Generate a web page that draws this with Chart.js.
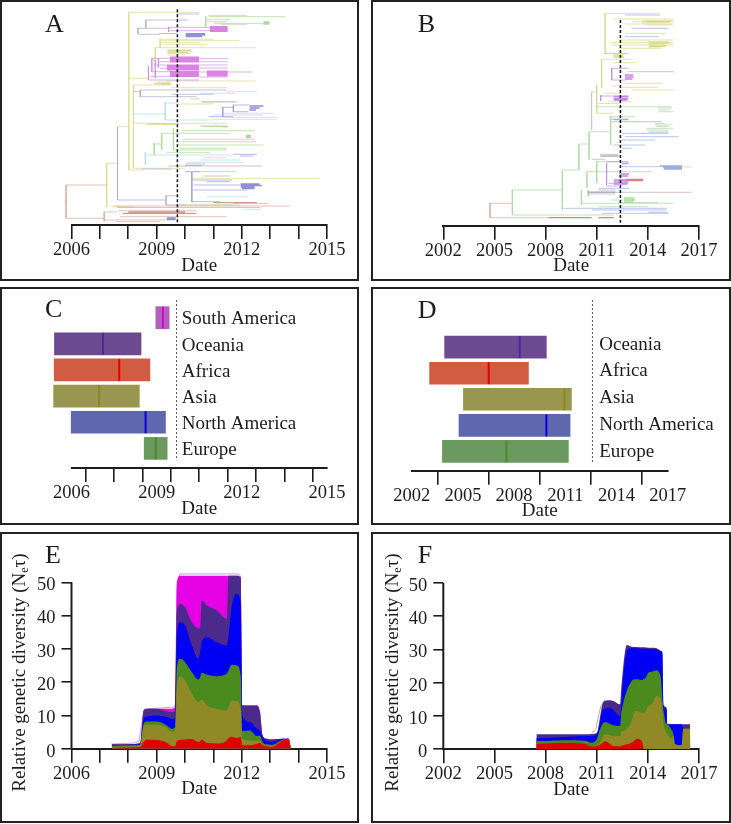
<!DOCTYPE html>
<html>
<head>
<meta charset="utf-8">
<script src="https://cdn.jsdelivr.net/npm/chart.js@4"></script>
<style>
  html, body { margin: 0; padding: 0; background: #fff; }
  .panel { position: absolute; box-shadow: inset 0 0 0 2px #222; }
  canvas { display: block; }
</style>
</head>
<body>
<script>
// Tree A: branches are [from year, to year, row], stems are [year, from row, to row]
const aYellowBranches = [[2008.02,2010.53,12.3],[2008.02,2008.54,170],[2008.02,2008.71,78.3],[2008.18,2009.47,85],[2008.18,2011.47,123.3],[2008.6,2009.8,124],[2008.18,2010.0,168.3],[2009.12,2011.0,39.3],[2009.12,2011.92,40.7],[2009.12,2010.53,42.7],[2009.24,2010.77,44.7],[2008.95,2012.5,47.7],[2009.36,2010.24,50],[2009.36,2010.26,51.7],[2009.36,2010.2,53.3],[2009.4,2010.0,55],[2009.36,2012.49,81],[2009.0,2009.5,82],[2009.0,2009.5,83.3],[2009.1,2009.5,84.5],[2009.53,2011.5,87.7],[2010.53,2011.82,101.7],[2009.77,2011.0,104],[2010.24,2014.73,178.3],[2009.83,2011.94,205],[2007.42,2008.18,206.7],[2007.62,2008.02,126.7],[2007.24,2007.62,163.3]];
const aYellowStems = [[2008.02,12.3,170],[2008.18,85,168.3],[2008.95,47.7,62],[2007.24,163,207],[2009.12,39,48]];
const aYellowBlob = [[2009.4,2010.2,50.5],[2009.4,2010.1,52.5],[2008.9,2009.5,83.5],[2008.7,2009.7,124]];
const aPurpleBranches = [[2010.49,2011.5,58.7],[2010.49,2011.5,61.7],[2010.49,2011.5,65],[2010.49,2011.5,68],[2010.49,2012.37,72],[2010.49,2011.5,77],[2008.83,2009.47,58.3],[2009.06,2009.47,61.7],[2008.89,2009.36,65],[2009.12,2009.6,68.3],[2008.83,2009.47,71.7],[2008.77,2009.47,76.7],[2008.71,2010.49,80],[2009.42,2011.47,27.3],[2009.42,2010.99,30.7]];
const aPurpleStems = [[2008.83,58,72],[2009.06,58,68],[2008.71,66,80],[2008.95,60,78],[2009.42,27,32]];
const aPurpleBlock = [[2009.47,2010.49,57.5],[2009.47,2010.49,59.5],[2009.47,2010.49,61.5],[2009.36,2010.49,65.5],[2009.36,2010.49,67.5],[2009.36,2010.49,69.5],[2009.47,2010.49,72],[2009.47,2010.49,74],[2009.47,2010.49,76],[2010.77,2011.5,71.5],[2010.77,2011.5,73.5],[2010.77,2011.5,75.5],[2010.88,2011.5,27],[2010.88,2011.5,29],[2010.88,2011.5,31]];
const aGreenBranches = [[2010.83,2012.18,15.7],[2010.83,2013.53,16.7],[2010.77,2011.59,19.3],[2010.73,2011.47,21.7],[2011.0,2012.94,23.3],[2011.24,2012.18,24.3],[2010.18,2010.53,99],[2010.65,2011.53,126.7],[2009.89,2012.47,130.7],[2009.59,2011.59,133.3],[2009.95,2012.47,139.3],[2009.83,2012.5,141.7],[2009.71,2012.76,145],[2009.83,2011.47,148.3],[2009.59,2011.47,150],[2009.36,2010.88,152.7],[2008.91,2009.18,144],[2009.18,2009.59,133.3],[2009.83,2011.71,205],[2010.3,2011.82,171.6]];
const aGreenStems = [[2010.73,16,28],[2009.59,128,150],[2009.18,133,150],[2008.91,143,155]];
const aGreenBlob = [[2012.76,2012.97,22],[2012.76,2012.97,23],[2012.76,2012.97,24],[2012.15,2012.32,135.5],[2012.15,2012.32,136.5],[2012.15,2012.32,137.5],[2011.3,2011.5,126.5]];
const aCyanBranches = [[2008.18,2009.3,114],[2011.0,2012.76,115],[2011.35,2013.11,113.3],[2011.35,2013.23,117.3],[2011.0,2013.23,119.3],[2009.3,2011.0,120],[2011.47,2012.53,91.7],[2010.53,2011.76,93.3],[2008.6,2011.7,155],[2010.65,2011.47,157.7],[2010.53,2011.94,160],[2010.06,2012.06,162.3],[2010.77,2012.23,196.7],[2012.06,2012.7,209.3],[2009.3,2009.71,103]];
const aCyanStems = [[2009.3,102,120],[2008.6,152,165]];
const aBlueBranches = [[2009.1,2009.7,33.5],[2011.7,2012.27,105],[2011.7,2012.23,111.7],[2011.33,2011.7,107.3],[2010.83,2011.7,116.7],[2011.7,2012.53,154.3],[2011.94,2012.41,156],[2010.0,2010.53,171.7],[2010.24,2011.65,180],[2010.77,2011.59,181.7],[2010.3,2011.96,185],[2010.3,2012.17,190],[2010.24,2011.24,201.7]];
const aBlueStems = [[2011.7,105,112],[2011.33,107,117],[2010.24,172,202]];
const aBlueBlob = [[2010.02,2010.71,33.7],[2010.02,2010.71,35],[2010.02,2010.6,36.5],[2012.27,2012.76,106],[2012.27,2012.63,108],[2012.27,2012.5,110],[2011.96,2012.62,184],[2011.96,2012.7,185.5],[2011.96,2012.45,187],[2012.0,2012.45,188.5],[2009.36,2009.67,218],[2009.36,2009.67,219.5]];
const aLavenderBranches = [[2007.62,2009.33,200],[2009.33,2009.71,195.7],[2009.33,2010.0,205],[2008.42,2011.47,90],[2008.42,2010.41,96.7],[2009.53,2011,94.3],[2008.18,2008.42,91.7],[2010.59,2011.82,102],[2010.53,2011.3,126],[2010,2010.71,164],[2010,2010.6,165.5],[2009.42,2012.7,166],[2008.48,2009.53,169],[2008.34,2009.12,34.3],[2008.34,2009.47,28.3],[2008.62,2010.1,20],[2009.7,2010.5,14]];
const aLavenderStems = [[2007.62,127,200],[2009.33,195.7,205],[2008.42,90,97],[2008.34,28,34],[2008.62,20,28]];
const aRoseBranches = [[2005.81,2007.24,185],[2005.81,2007.15,218.3],[2005.74,2005.81,202],[2007.48,2013.68,206],[2007.6,2012.64,207.5],[2007.65,2010.41,210.7],[2007.71,2011.47,216.7],[2007.54,2009.12,221.7],[2007.15,2007.6,212],[2007.15,2009.36,220],[2011.7,2012.94,203.6],[2010.65,2011.59,176]];
const aRoseStems = [[2005.81,185,218.3],[2007.15,212,221.7]];
const aRoseBlob = [[2008.0,2010.0,212],[2007.8,2010.4,213.3],[2011,2012.53,202.7]];
const aDateLine = [2009.73, 9.3, 224];

// Tree B
const bYellowBranches = [[2011.49,2014.71,13.3],[2011.98,2015.5,19],[2013.05,2015.5,21.7],[2012.66,2015.5,24],[2013.64,2015.5,20.7],[2013.64,2015.3,22.7],[2013.8,2015.4,25],[2012.66,2015.1,33.3],[2012.27,2015.5,40],[2011.78,2015.5,42.7],[2011.88,2015.5,45],[2012.27,2014.81,48.3],[2014.03,2014.81,47],[2014.03,2014.9,46.3],[2014,2015,44],[2014,2015.2,41.5],[2011.29,2013.05,59.3],[2011.98,2013.34,62.7],[2012.46,2014.81,83.3],[2012.46,2014.6,87.3],[2013.05,2015.5,90],[2011.88,2012.46,86],[2011,2011.98,113.3],[2011.68,2013.05,101.7],[2011.1,2012.37,103.5],[2011.49,2012.37,93.3],[2016,2016.57,167]];
const bYellowStems = [[2011.49,13.3,54],[2011.29,59,88],[2011,85,113]];
const bYellowBlob = [[2011.98,2012.56,55],[2011.98,2012.6,57],[2013.9,2015.3,21.5],[2014.1,2015.3,43],[2014.1,2015.1,46]];
const bPurpleBranches = [[2011.88,2012.86,68.3],[2011.88,2012.66,80],[2011.23,2012.86,96],[2011.58,2012.86,161.7],[2011.68,2012.86,183.3],[2011.6,2012.3,186]];
const bPurpleStems = [[2011.88,68,80],[2011.23,95,101],[2011.58,163,185]];
const bPurpleBlob = [[2012.66,2013.15,75],[2012.66,2013.15,77],[2012.66,2013.1,79],[2012,2012.86,96.5],[2012,2012.86,98.5],[2012,2012.8,100],[2012.3,2012.9,174],[2012.3,2012.85,176],[2012,2012.9,180],[2012,2012.85,182],[2012,2012.8,184]];
const bGreenBranches = [[2010.7,2011,92],[2011,2015.4,106.7],[2014.6,2015.4,108],[2014.65,2015.5,111.7],[2014.6,2015.3,110],[2011.82,2013.25,116.7],[2014.42,2015.4,125],[2014.42,2015.0,123.5],[2014.5,2015.2,126.5],[2013.93,2015.5,128.3],[2013.93,2015.2,130],[2010.55,2011.78,131.7],[2009.96,2010.55,144],[2008.98,2009.96,170],[2006.05,2008.98,190],[2006.05,2012,215],[2011,2012.27,161.7],[2010.43,2014.22,171.7],[2011.88,2013.25,200],[2010.1,2015.5,203.3],[2012.27,2014.6,202.5],[2011.1,2014.03,206.7]];
const bGreenStems = [[2010.7,92,130],[2011.82,116,145],[2010.55,132,160],[2009.96,144,170],[2008.98,170,210],[2006.05,190,215],[2011,161,183],[2010.43,172,188],[2010.1,190,205]];
const bGreenBlob = [[2012.6,2013.2,198],[2012.6,2013.25,200],[2012.6,2013.15,202]];
const bBlueBranches = [[2012.66,2014.71,15],[2013.05,2015.2,28.3],[2012.66,2014.62,36.7],[2011.49,2012.86,53.3],[2012.86,2015.5,71.7],[2011.82,2012.86,119.3],[2011.88,2014.81,121.7],[2012.46,2015.2,133.3],[2014.03,2015.2,132],[2012.66,2015.79,136.7],[2012.46,2014.42,140],[2011.98,2013.83,145],[2012.46,2013.05,148.3],[2012.46,2014.71,166.7],[2011.1,2012.95,188.3],[2009.04,2015.1,208.3],[2010.7,2015.1,210],[2011.29,2015.2,213.3],[2014.03,2015.2,212.3]];
const bBlueBlob = [[2014.71,2016,166],[2014.9,2016,167.5],[2014.95,2016,169],[2012.46,2012.86,163.5]];
const bGrayBranches = [[2011.19,2012.27,154.3],[2010.7,2011.49,159.3],[2010.5,2014.42,192.3],[2011.1,2012.1,190],[2010.5,2012.1,194]];
const bGrayStems = [[2010.5,190,196]];
const bGrayBlob = [[2011.2,2012.3,156],[2012,2012.86,119.5],[2010.5,2012.1,192.3]];
const bRoseBranches = [[2004.74,2006.05,203.3],[2004.74,2008.16,217.7],[2014.42,2016.57,192.3]];
const bRoseStems = [[2004.74,203,218]];
const bRedBlob = [[2008.16,2010.7,217.7],[2011.1,2012,217.7],[2012.36,2013.74,180],[2012.7,2013.74,179.3],[2012.7,2013.7,180.7]];
const bDateLine = [2012.39, 20, 222.7];

// Panel C and D: region, start, end and median years
const cRegions = ['South America', 'Oceania', 'Africa', 'Asia', 'North America', 'Europe'];
const cStart = [2008.97, 2005.40, 2005.39, 2005.37, 2005.99, 2008.56];
const cEnd = [2009.44, 2008.45, 2008.76, 2008.39, 2009.31, 2009.37];
const cMedian = [2009.22, 2007.11, 2007.68, 2006.97, 2008.61, 2008.97];
const cLabelRows = [0.07, 1.07, 2.07, 3.07, 4.07, 5.07];
const cBarColors = ['#b262b8', '#6b4a8f', '#d25c42', '#999650', '#5f68ae', '#6a9a60'];
const cMedianColors = ['#d800d8', '#4b2a9a', '#e00000', '#8a8a20', '#0000e0', '#4a8a2a'];
const dRegions = ['Oceania', 'Africa', 'Asia', 'North America', 'Europe'];
const dStart = [2003.93, 2003.05, 2005.03, 2004.77, 2003.80];
const dEnd = [2009.89, 2008.84, 2011.36, 2011.28, 2011.18];
const dMedian = [2008.33, 2006.51, 2010.95, 2009.89, 2007.55];
const dLabelRows = [-0.1, 0.93, 1.96, 2.99, 4.03];
const dBarColors = ['#6b4a8f', '#d25c42', '#999650', '#5f68ae', '#6a9a60'];
const dMedianColors = ['#4b2a9a', '#e00000', '#8a8a20', '#0000e0', '#4a8a2a'];

// Panel E: upper edge of each coloured band
const eYears = [2007.42,2008.18,2008.42,2008.54,2008.65,2009.0,2009.36,2009.53,2009.65,2009.71,2009.83,2010.0,2010.24,2010.47,2010.53,2010.59,2010.77,2011.12,2011.47,2011.53,2011.65,2011.82,2011.96,2012.02,2012.29,2012.53,2012.64,2012.73,2012.88,2013.05,2013.46,2013.64,2013.73];
const eRed = [.3,.4,.5,2,2.7,2.6,1.8,.8,.7,2.2,2.6,2.8,2.9,2,2.2,2.8,1.7,1.6,2.5,3.2,3.6,3.2,3.5,1,1,1.5,1.8,1,.7,.5,2.6,3,0];
const eOlive = [.6,.7,1,6.5,7.2,7.2,6.2,5,5.5,18,21.8,20.5,16.5,14,14.4,14.8,13,12,11.5,12.5,14.5,14.3,12,3,2.5,2.4,2.4,1.3,.9,.8,2.7,3,0];
const eGreen = [.9,1,1.1,7.5,8.2,8.2,7,6,6.5,24,27,26,23,20.8,21.5,22.8,22.2,21.8,22.5,23.5,25.2,25,22,5.3,5.5,3.8,4,2,1.3,1.2,2.8,3,0];
const eBlue = [1.1,1.2,1.3,8.8,9.7,10,9.5,9,9,34,38,37,31,27,29,32,33.5,32,31,34,43,46.5,44,10,8,6,5.5,3.5,2.3,2,3,3,0];
const ePurple = [1.3,1.4,1.7,11.5,12,12,11.2,11,11,41,43.5,42.5,38,36.2,36.5,44.5,43,41.5,39,52,52,52,51.5,13,13,13,11,4,3,2.8,3,3,0];
const eMagenta = [1.3,1.4,1.7,11.5,12,12,12,12,12.5,50,52,52,52,52,52,52,52,52,52,52,52,52,51.5,13,13,13,11,4,3,2.8,3,3,0];
const eOutlineYears = [2007.4,2008.2,2008.38,2008.46,2008.55,2008.7,2009.62,2009.68,2009.72,2009.82,2011.9,2011.97];
const eOutline = [1.4,1.7,2.2,7,11,12,12.5,14,48,52.5,52.5,51.5];

// Panel F
const fYears = [2007.46,2009.14,2010.31,2010.70,2011.0,2011.19,2011.33,2011.49,2011.78,2011.97,2012.37,2012.42,2012.56,2012.76,2013.05,2013.25,2013.34,2013.64,2013.79,2014.03,2014.22,2014.52,2014.71,2014.77,2014.85,2014.91,2015.10,2015.14,2015.36,2015.50,2015.59,2015.98,2016.08,2016.47,2016.49];
const fRed = [1.7,2,1.7,.8,1,1.4,1.9,2.4,1.6,1,.9,1,1.2,1.5,2,2.8,3.2,2.5,0,0,0,0,0,0,0,0,0,0,0,0,0,0,0,0,0];
const fOlive = [1.7,2,1.7,.8,1.2,2,3.5,4.5,4.2,4,4,5,5.5,6,8.5,11.5,11.5,11,11,13,13.5,16,15.5,15,11,8,5,4.6,3.2,4,1.5,1.2,6.2,6.2,0];
const fGreen = [2.4,2.7,2.6,2,3,6,7.5,8.2,7.6,7.2,7,10,14,17.5,20.5,21,21,20.8,21,23,23.3,23.7,22.5,21,15,12,7.5,7.5,6,4.5,1.5,1.2,6.2,6.2,0];
const fBlue = [3.3,3.7,4,4,4.6,8,11.5,12.2,12.5,11.8,10,12,22,29.5,30.3,30.3,30.3,30.2,30.2,30.1,30,29.9,29.6,29.4,29,13,12,7.5,7.5,7.5,7.5,7.5,6.2,6.2,0];
const fPurple = [4.5,4.5,4.5,4.6,4.9,9.5,13.5,14.6,14.7,14.5,13.5,17,25,31.3,30.8,30.7,30.7,30.6,30.6,30.5,30.5,30.3,29.7,29.5,29,13.5,12.5,7.5,7.5,7.5,7.5,7.5,7.5,7.5,0];
const fOutlineYears = [2010.7,2010.95,2011.1,2011.25,2011.5];
const fOutline = [4.8,6,10,13,14.8];

const diversityTicks = [0, 10, 20, 30, 40, 50];
const serif = "'Liberation Serif', 'Times New Roman', serif";
const ink = '#1c1c1c';

function treeSet(branches, stems, color, width) {
    const pts = [];
    branches.forEach(([a, b, r]) => pts.push({x: a, y: r}, {x: b, y: r}, {x: null, y: null}));
    stems.forEach(([x, a, b]) => pts.push({x: x, y: a}, {x: x, y: b}, {x: null, y: null}));
    return {type: 'scatter', showLine: true, data: pts, borderColor: color, borderWidth: width, pointRadius: 0, spanGaps: false, clip: false};
}

function dashSet(line, color, width, dash) {
    return {type: 'scatter', showLine: true, data: [{x: line[0], y: line[1]}, {x: line[0], y: line[2]}],
        borderColor: color, borderWidth: width, borderDash: dash, pointRadius: 0};
}

function areaSet(xs, ys, color) {
    return {data: xs.map((x, i) => ({x: x, y: ys[i]})), backgroundColor: color, borderWidth: 0, pointRadius: 0,
        fill: 'origin', cubicInterpolationMode: 'monotone'};
}

function barSets(start, end, median, barColors, medianColors) {
    return [
        {type: 'scatter', data: median.map((m, i) => ({x: m, y: i})), pointStyle: 'line', pointRotation: 90,
            pointRadius: 11, pointBorderWidth: 2, pointBorderColor: medianColors, clip: false},
        {type: 'bar', indexAxis: 'y', data: start.map((s, i) => ({x: [s, end[i]], y: i})),
            backgroundColor: barColors, barThickness: 22, clip: false}
    ];
}

function panelLetter(letter, x, y) {
    return {id: 'letter', afterDraw(chart) {
        const ctx = chart.ctx;
        ctx.save();
        ctx.font = '26px ' + serif;
        ctx.fillStyle = ink;
        ctx.fillText(letter, x, y);
        ctx.restore();
    }};
}

function regionLabels(names, rows, year) {
    return {id: 'regions', afterDraw(chart) {
        const ctx = chart.ctx;
        ctx.save();
        ctx.font = '19px ' + serif;
        ctx.fillStyle = ink;
        ctx.textBaseline = 'middle';
        names.forEach((n, i) => ctx.fillText(n, chart.scales.x.getPixelForValue(year), chart.scales.y.getPixelForValue(rows[i])));
        ctx.restore();
    }};
}

function diversityTitle(x, y) {
    return {id: 'ytitle', afterDraw(chart) {
        const ctx = chart.ctx;
        ctx.save();
        ctx.translate(x, y);
        ctx.rotate(-Math.PI / 2);
        ctx.fillStyle = ink;
        ctx.font = '19px ' + serif;
        let pos = 0;
        ctx.fillText('Relative genetic diversity (N', pos, 0);
        pos += ctx.measureText('Relative genetic diversity (N').width;
        ctx.font = '12px ' + serif;
        ctx.fillText('e', pos, 3);
        pos += ctx.measureText('e').width;
        ctx.font = '19px ' + serif;
        ctx.fillText('\u03c4)', pos, 0);
        ctx.restore();
    }};
}

function makePanel(box, geo, type, datasets, yScale, plugins) {
    const wrap = document.createElement('div');
    wrap.className = 'panel';
    wrap.style.cssText = `left:${box[0]}px;top:${box[1]}px;width:${box[2]}px;height:${box[3]}px`;
    const canvas = document.createElement('canvas');
    canvas.width = box[2];
    canvas.height = box[3];
    wrap.appendChild(canvas);
    document.body.appendChild(wrap);

    const xH = 52;
    const yW = yScale.display === false ? 0 : 45;
    yScale.afterFit = s => { if (yW) s.width = yW; s.paddingTop = 0; s.paddingBottom = 0; };
    new Chart(canvas, {
        type: type,
        data: {datasets: datasets},
        options: {
            responsive: false,
            animation: false,
            events: [],
            layout: {padding: {
                left: geo.x0 - box[0] - yW,
                right: box[0] + box[2] - geo.x1,
                top: geo.top - box[1],
                bottom: box[1] + box[3] - geo.axis - xH
            }},
            plugins: {legend: {display: false}, tooltip: {enabled: false}},
            scales: {
                x: {
                    type: 'linear', min: geo.min, max: geo.max, offset: false,
                    border: {color: ink, width: 2},
                    grid: {drawOnChartArea: false, color: ink, lineWidth: 1.6, tickLength: 14},
                    ticks: {
                        stepSize: geo.step, autoSkip: false, maxRotation: 0, padding: 0, color: ink,
                        font: {family: serif, size: 18.5},
                        callback: v => (v - geo.min) % 3 === 0 ? String(v) : ''
                    },
                    title: {display: true, text: 'Date', color: ink, padding: 0, font: {family: serif, size: 19}},
                    afterFit: s => { s.height = xH; s.paddingLeft = 0; s.paddingRight = 0; }
                },
                y: yScale
            }
        },
        plugins: plugins
    });
}

const treeY = max => ({type: 'linear', display: false, reverse: true, min: 0, max: max, offset: false});
const barY = (min, max) => ({type: 'linear', display: false, reverse: true, min: min, max: max, offset: false});
const diversityY = () => ({
    type: 'linear', min: 0, max: 53, position: 'left', offset: false,
    border: {display: false},
    grid: {drawOnChartArea: false, color: ink, lineWidth: 1.6, tickLength: 10},
    ticks: {stepSize: 10, padding: 6, labelOffset: 3, color: ink, font: {family: serif, size: 18.5}},
    afterBuildTicks: s => { s.ticks = diversityTicks.map(v => ({value: v})); }
});
const yAxisLine = year => ({type: 'scatter', showLine: true, clip: false, data: [{x: year, y: 0}, {x: year, y: 50}],
    borderColor: ink, borderWidth: 2, pointRadius: 0});
const outline = (xs, ys) => ({data: xs.map((x, i) => ({x: x, y: ys[i]})), borderColor: '#b5a8d6', borderWidth: 1, pointRadius: 0, fill: false});

const geoLeft = {x0: 71.5, x1: 327, min: 2006, max: 2015, step: 1};
const thin = 0.7;
const yYellow = '#d8d88c', yPurple = '#c98fdc', yGreen = '#a8d890', yCyan = '#b0dcdf', yBlue = '#9898da',
    yLav = '#aea8cc', yRose = '#d8a69e';

makePanel([0, 0, 359, 281], {...geoLeft, top: 0, axis: 225}, 'scatter', [
    dashSet(aDateLine, '#111', 1.5, [3, 2]),
    treeSet(aPurpleBlock, [], '#d983e2', 1.8),
    treeSet(aBlueBlob, [], '#9090dc', 1.4),
    treeSet(aGreenBlob, [], '#a8da94', 1.4),
    treeSet(aRoseBlob, [], '#d19a92', 1.3),
    treeSet(aYellowBlob, [], '#dcdc90', 1.4),
    treeSet(aPurpleBranches, aPurpleStems, yPurple, thin),
    treeSet(aBlueBranches, aBlueStems, yBlue, thin),
    treeSet(aGreenBranches, aGreenStems, yGreen, thin),
    treeSet(aCyanBranches, aCyanStems, yCyan, thin),
    treeSet(aLavenderBranches, aLavenderStems, yLav, thin),
    treeSet(aRoseBranches, aRoseStems, yRose, thin),
    treeSet(aYellowBranches, aYellowStems, yYellow, thin)
], treeY(225), [panelLetter('A', 45, 32)]);

makePanel([371, 0, 360, 281], {x0: 443.3, x1: 699, min: 2002, max: 2017, step: 3, top: 0, axis: 225.7}, 'scatter', [
    dashSet(bDateLine, '#111', 1.5, [3, 2]),
    treeSet(bPurpleBlob, [], '#c585e0', 1.4),
    treeSet(bBlueBlob, [], '#9cacdc', 1.4),
    treeSet(bGreenBlob, [], '#a8dc9a', 1.4),
    treeSet(bRedBlob, [], '#dc8080', 1.2),
    treeSet(bGrayBlob, [], '#b0b0b8', 1.4),
    treeSet(bYellowBlob, [], '#d8da80', 1.4),
    treeSet(bPurpleBranches, bPurpleStems, '#bb8ad8', thin),
    treeSet(bBlueBranches, [], '#9aaee0', thin),
    treeSet(bGreenBranches, bGreenStems, '#a8d8a4', thin),
    treeSet(bGrayBranches, bGrayStems, '#b0b0bc', thin),
    treeSet(bRoseBranches, bRoseStems, yRose, thin),
    treeSet(bYellowBranches, bYellowStems, '#d6d984', thin)
], treeY(225.7), [panelLetter('B', 417.7 - 371, 32)]);

makePanel([0, 287, 359, 238], {...geoLeft, top: 296.7, axis: 468}, 'bar', [
    dashSet([2009.70, -0.675, 5.45], '#555', 1, [2, 2]),
    ...barSets(cStart, cEnd, cMedian, cBarColors, cMedianColors)
], barY(-0.675, 5.75), [panelLetter('C', 45, 30), regionLabels(cRegions, cLabelRows, 2009.885)]);

makePanel([371, 287, 360, 238], {x0: 411.7, x1: 667.7, min: 2002, max: 2017, step: 3, top: 296, axis: 470.7}, 'bar', [
    dashSet([2012.59, -1.81, 4.44], '#555', 1, [2, 2]),
    ...barSets(dStart, dEnd, dMedian, dBarColors, dMedianColors)
], barY(-1.81, 4.74), [panelLetter('D', 417.7 - 371, 31), regionLabels(dRegions, dLabelRows, 2012.99)]);

makePanel([0, 532, 359, 291], {...geoLeft, top: 748.7 - 53 * 3.328, axis: 748.7}, 'line', [
    yAxisLine(2006),
    areaSet(eYears, eRed, '#e00000'),
    areaSet(eYears, eOlive, '#8f8a25'),
    areaSet(eYears, eGreen, '#4b8a1e'),
    areaSet(eYears, eBlue, '#0000f5'),
    areaSet(eYears, ePurple, '#4b2a8c'),
    areaSet(eYears, eMagenta, '#e600e6'),
    outline(eOutlineYears, eOutline)
], diversityY(), [panelLetter('E', 45, 31), diversityTitle(25, 259.7)]);

makePanel([371, 532, 360, 291], {x0: 443.3, x1: 699, min: 2002, max: 2017, step: 3, top: 749.3 - 53 * 3.332, axis: 749.3}, 'line', [
    yAxisLine(2002),
    areaSet(fYears, fRed, '#e00000'),
    areaSet(fYears, fOlive, '#8f8a25'),
    areaSet(fYears, fGreen, '#4b8a1e'),
    areaSet(fYears, fBlue, '#0000f5'),
    areaSet(fYears, fPurple, '#4b2a8c'),
    outline(fOutlineYears, fOutline)
], diversityY(), [panelLetter('F', 417.7 - 371, 31), diversityTitle(397.7 - 371, 259.7)]);
</script>
</body>
</html>
